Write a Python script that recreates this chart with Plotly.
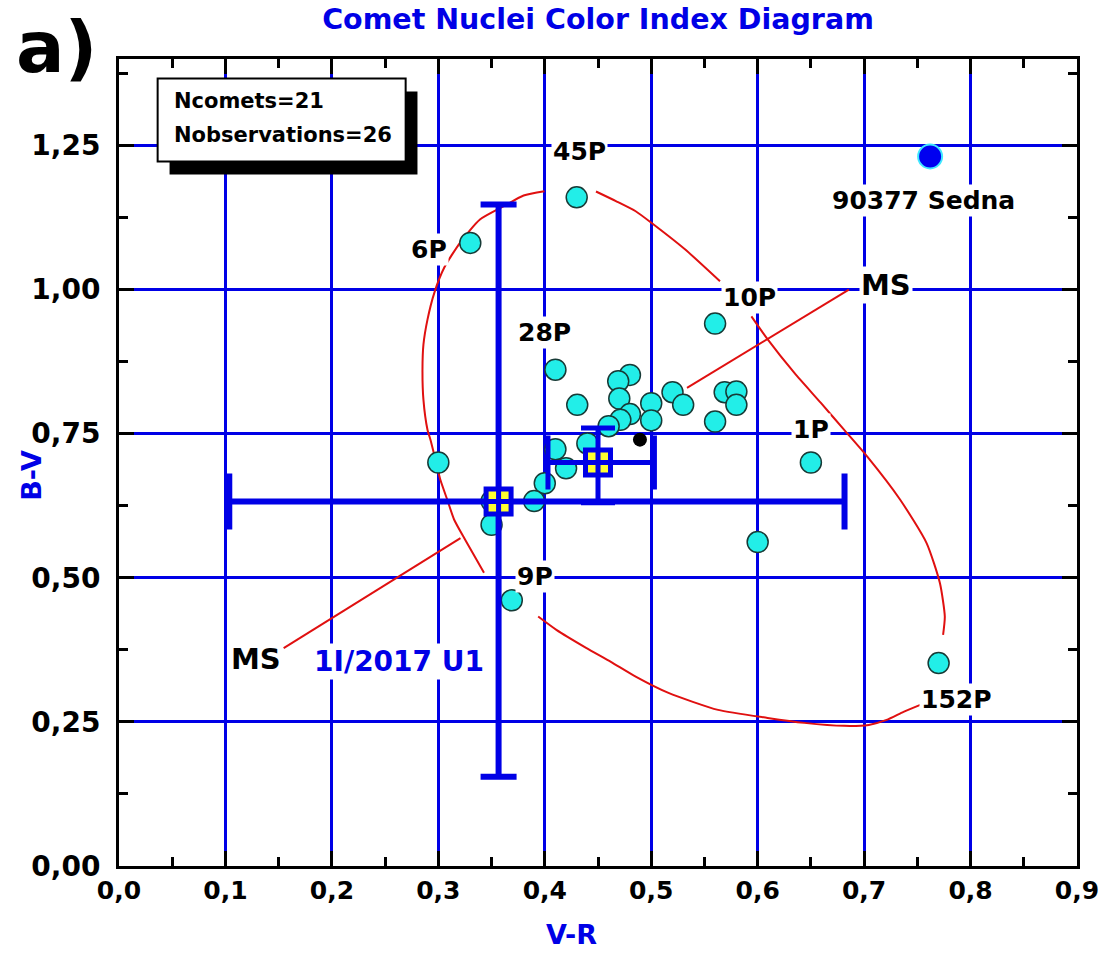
import plotly.graph_objects as go

# ---- data ----
comet_vr = [0.330, 0.430, 0.410, 0.480, 0.469, 0.4305, 0.470, 0.500, 0.520, 0.530,
            0.480, 0.471, 0.500, 0.460, 0.440, 0.410, 0.420, 0.400, 0.390, 0.350,
            0.350, 0.300, 0.560, 0.569, 0.580, 0.580, 0.560, 0.650, 0.600, 0.770, 0.369]
comet_bv = [1.081, 1.160, 0.861, 0.852, 0.841, 0.800, 0.811, 0.803, 0.822, 0.800,
            0.784, 0.774, 0.773, 0.763, 0.733, 0.723, 0.690, 0.664, 0.633, 0.633,
            0.592, 0.700, 0.941, 0.822, 0.823, 0.800, 0.771, 0.700, 0.562, 0.352, 0.461]

sedna_vr = [0.762]
sedna_bv = [1.231]

black_vr = [0.4894]
black_bv = [0.7396]

# 1I/2017 U1 measurements (centre, asymmetric errors)
oumua_vr = [0.3566, 0.450]
oumua_bv = [0.6325, 0.700]
oumua_vr_plus = [0.325, 0.053]
oumua_vr_minus = [0.253, 0.047]
oumua_bv_plus = [0.515, 0.060]
oumua_bv_minus = [0.4775, 0.070]

# hand-drawn MS contour (None = gap)
ms_curve_x = [0.3997, 0.3801, 0.3615, 0.3391, 0.3205, 0.3056, 0.2963, 0.2898, 0.2860, 0.2851,
              0.2860, 0.2898, 0.2926, 0.2973, 0.3019, 0.3084, 0.3149, 0.3252, 0.3429, None,
              0.3938, 0.4109, 0.4388, 0.4621, 0.4854, 0.5162, 0.5628, 0.6093, 0.6438, 0.6811,
              0.7044, 0.7211, 0.7370, 0.7528, None,
              0.7742, 0.7758, 0.7712, 0.7587, 0.7339, 0.7028, 0.6811, 0.6594, 0.6345, 0.6096,
              0.5941, None,
              0.5646, 0.5320, 0.5010, 0.4854, 0.4668, 0.4481]
ms_curve_y = [1.1707, 1.1632, 1.1446, 1.1215, 1.0816, 1.0382, 0.9948, 0.9479, 0.9045, 0.8611,
              0.8090, 0.7569, 0.7396, 0.7049, 0.6701, 0.6354, 0.6007, 0.5660, 0.5087, None,
              0.4328, 0.4097, 0.3785, 0.3542, 0.3286, 0.3003, 0.2708, 0.2569, 0.2483, 0.2431,
              0.2448, 0.2535, 0.2674, 0.2795, None,
              0.4010, 0.4328, 0.4908, 0.5602, 0.6354, 0.7106, 0.7569, 0.8033, 0.8554, 0.9132,
              0.9536, None,
              1.0144, 1.0694, 1.1146, 1.1359, 1.1535, 1.1701]

ms_pointer_x = [0.6857, 0.5336, None, 0.1547, 0.3208]
ms_pointer_y = [1.000, 0.8293, None, 0.3780, 0.5689]

label_text = ["45P", "6P", "28P", "10P", "1P", "9P", "152P", "90377 Sedna"]
label_vr = [0.4323, 0.2913, 0.400, 0.5926, 0.650, 0.3904, 0.7867, 0.7556]
label_bv = [1.2396, 1.0694, 0.9248, 0.9856, 0.7569, 0.5017, 0.2882, 1.1545]

ms_label_vr = [0.7205, 0.1283]
ms_label_bv = [1.0087, 0.3589]

x_ticks = [0.0, 0.1, 0.2, 0.3, 0.4, 0.5, 0.6, 0.7, 0.8, 0.9]
y_ticks = [0.00, 0.25, 0.50, 0.75, 1.00, 1.25]

FONT = "DejaVu Sans"
BLUE = "#0000E6"

fig = go.Figure()

fig.add_trace(go.Scatter(x=ms_curve_x, y=ms_curve_y, mode="lines",
                         line=dict(color="#E01010", width=2, shape="spline", smoothing=0.6),
                         connectgaps=False, hoverinfo="skip", showlegend=False))
fig.add_trace(go.Scatter(x=ms_pointer_x, y=ms_pointer_y, mode="lines",
                         line=dict(color="#E01010", width=2),
                         hoverinfo="skip", showlegend=False))

fig.add_trace(go.Scatter(x=comet_vr, y=comet_bv, mode="markers",
                         marker=dict(size=21, color="#22EEE8",
                                     line=dict(color="#173A36", width=1.5)),
                         showlegend=False))
fig.add_trace(go.Scatter(x=black_vr, y=black_bv, mode="markers",
                         marker=dict(size=14, color="black"), showlegend=False))
fig.add_trace(go.Scatter(x=sedna_vr, y=sedna_bv, mode="markers",
                         marker=dict(size=24, color="#0000F0",
                                     line=dict(color="#40E8FF", width=2)),
                         showlegend=False))

widths_x = [28, 27]
widths_y = [18, 17]
thick = [6, 5]
for i in range(len(oumua_vr)):
    fig.add_trace(go.Scatter(
        x=[oumua_vr[i]], y=[oumua_bv[i]], mode="markers",
        marker=dict(symbol="square-cross", size=25, color="#FFFF30",
                    line=dict(color=BLUE, width=5)),
        error_x=dict(type="data", symmetric=False, array=[oumua_vr_plus[i]],
                     arrayminus=[oumua_vr_minus[i]], color=BLUE,
                     thickness=thick[i], width=widths_x[i]),
        error_y=dict(type="data", symmetric=False, array=[oumua_bv_plus[i]],
                     arrayminus=[oumua_bv_minus[i]], color=BLUE,
                     thickness=thick[i], width=widths_y[i]),
        showlegend=False))

annotations = []
for t, xv, yv in zip(label_text, label_vr, label_bv):
    annotations.append(dict(x=xv, y=yv, xref="x", yref="y", text=t, showarrow=False,
                            xanchor="center", yanchor="middle",
                            font=dict(family=FONT, size=25, color="black", weight="bold"),
                            bgcolor="white", borderpad=1))
for xv, yv in zip(ms_label_vr, ms_label_bv):
    annotations.append(dict(x=xv, y=yv, xref="x", yref="y", text="MS", showarrow=False,
                            xanchor="center", yanchor="middle",
                            font=dict(family=FONT, size=29, color="black", weight="bold"),
                            bgcolor="white", borderpad=1))
annotations.append(dict(x=0.2634, y=0.3547, xref="x", yref="y", text="1I/2017 U1",
                        showarrow=False, xanchor="center", yanchor="middle",
                        font=dict(family=FONT, size=28, color=BLUE, weight="bold"),
                        bgcolor="white", borderpad=1))
annotations.append(dict(x=0.0494, y=1.328, xref="x", yref="y", text="Ncomets=21",
                        showarrow=False, xanchor="left", yanchor="middle",
                        font=dict(family=FONT, size=21, color="black", weight="bold")))
annotations.append(dict(x=0.0494, y=1.269, xref="x", yref="y", text="Nobservations=26",
                        showarrow=False, xanchor="left", yanchor="middle",
                        font=dict(family=FONT, size=21, color="black", weight="bold")))
annotations.append(dict(x=-0.0921, y=0.4845, xref="paper", yref="paper", text="B-V",
                        textangle=-90, showarrow=False, xanchor="center", yanchor="middle",
                        font=dict(family=FONT, size=27, color=BLUE, weight="bold")))
annotations.append(dict(x=0.472, y=-0.0855, xref="paper", yref="paper", text="V-R",
                        showarrow=False, xanchor="center", yanchor="middle",
                        font=dict(family=FONT, size=27, color=BLUE, weight="bold")))
annotations.append(dict(x=-0.0642, y=1.0149, xref="paper", yref="paper", text="a)",
                        showarrow=False, xanchor="center", yanchor="middle",
                        font=dict(family=FONT, size=72, color="black", weight="bold")))

shapes = [
    dict(type="rect", xref="x", yref="y", x0=0.0475, x1=0.2804, y0=1.1997, y1=1.3438,
         fillcolor="black", line=dict(color="black", width=0), layer="above"),
    dict(type="rect", xref="x", yref="y", x0=0.0363, x1=0.2693, y0=1.222, y1=1.366,
         fillcolor="white", line=dict(color="black", width=2), layer="above"),
]

axis_common = dict(
    showline=True, linecolor="black", linewidth=3, mirror="ticks",
    ticks="inside", ticklen=15, tickwidth=2.5, tickcolor="black",
    showgrid=True, gridcolor=BLUE, gridwidth=2.5, zeroline=False,
    ticklabeloverflow="allow",
)

fig.update_layout(
    width=1111, height=968,
    margin=dict(l=119, r=26, t=59, b=102),
    paper_bgcolor="white", plot_bgcolor="white",
    separators=",.",
    title=dict(text="Comet Nuclei Color Index Diagram", xref="paper", x=0.5,
               xanchor="center", yref="container", y=0.9805, yanchor="middle",
               font=dict(family=FONT, size=28.5, color=BLUE, weight="bold")),
    xaxis=dict(range=[0, 0.9], tickvals=x_ticks, tickformat=".1f",
               tickfont=dict(family=FONT, size=25, color="black", weight="bold"),
               minor=dict(ticks="inside", ticklen=9, tickwidth=2.5, tickcolor="black",
                          dtick=0.05, tick0=0, showgrid=False),
               ticklabelstandoff=0,
               **axis_common),
    yaxis=dict(range=[0, 1.4], tickvals=y_ticks, tickformat=".2f",
               tickfont=dict(family=FONT, size=28, color="black", weight="bold"),
               minor=dict(ticks="inside", ticklen=9, tickwidth=2.5, tickcolor="black",
                          dtick=0.125, tick0=0, showgrid=False),
               ticklabelstandoff=10,
               **axis_common),
    annotations=annotations,
    shapes=shapes,
)

fig.write_html("out.html", config={"displayModeBar": False},
               post_script="document.body.style.margin='0';document.body.style.overflow='hidden';")
